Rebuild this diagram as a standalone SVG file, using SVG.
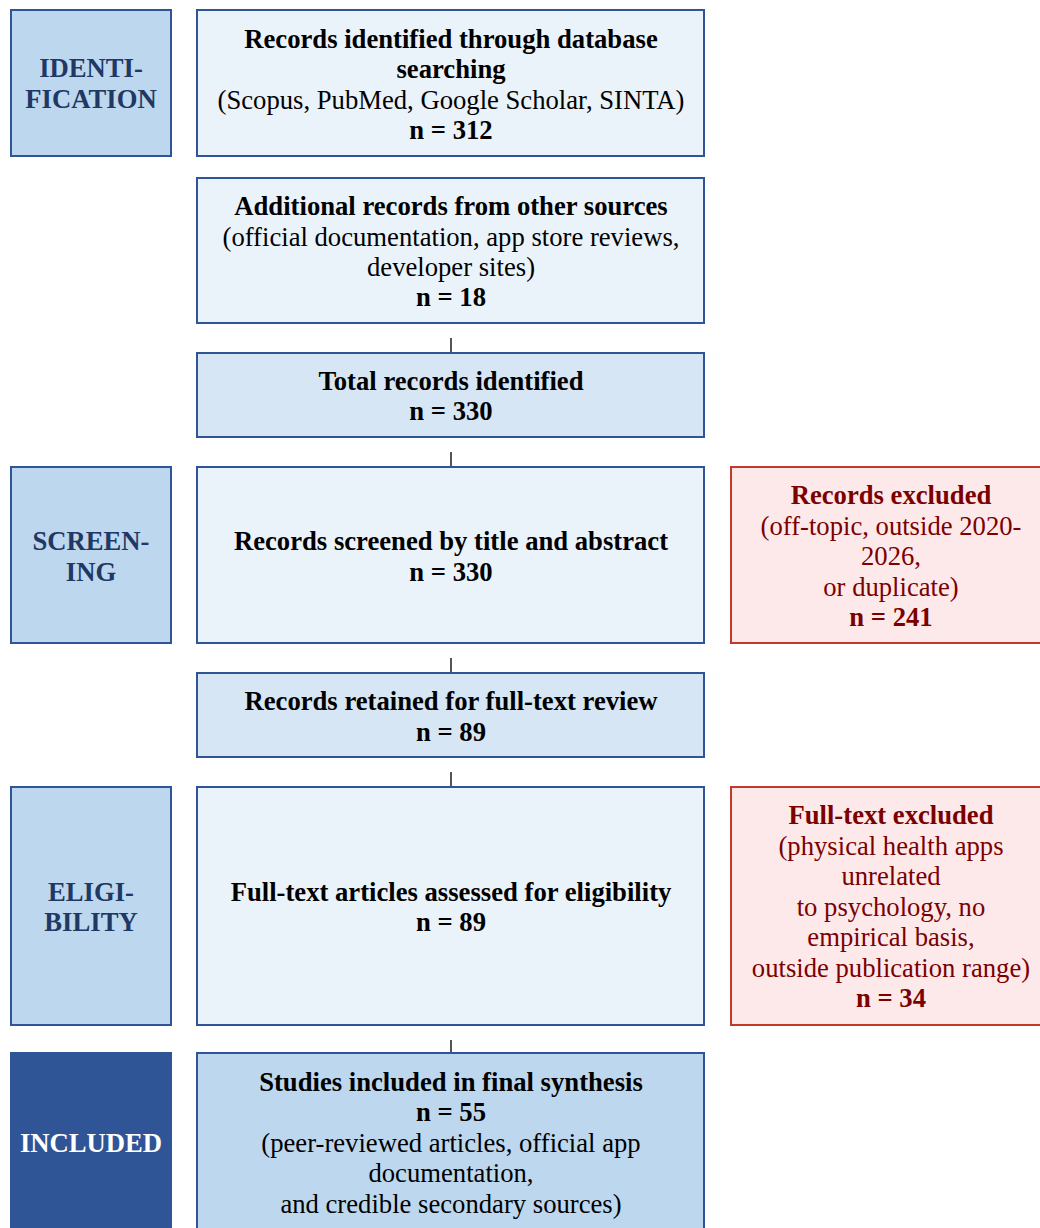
<svg xmlns="http://www.w3.org/2000/svg" width="1040" height="1228" viewBox="0 0 1040 1228">
<style>
text{font-family:"Liberation Serif","Times New Roman",serif;font-size:26.67px;text-anchor:middle}
.b{font-weight:bold}
.stage rect{fill:#BDD7EE;stroke:#2F5597;stroke-width:2}
.stage text{fill:#1F3864;font-weight:bold}
.mid rect{stroke:#2F5597;stroke-width:2}
.mid text{fill:#000}
.l1{fill:#EAF2FA}
.l2{fill:#D6E6F5}
.l3{fill:#BDD7EE}
.exc rect{fill:#FDE9E9;stroke:#C0392B;stroke-width:2}
.exc text{fill:#7B0000}
.conn line{stroke:#555;stroke-width:2}
</style>
<g id="stage-identification" class="stage"><rect x="11" y="10" width="160" height="146"/><text x="91" y="77">IDENTI-</text><text x="91" y="108">FICATION</text></g>
<g id="stage-screening" class="stage"><rect x="11" y="467" width="160" height="176"/><text x="91" y="550">SCREEN-</text><text x="91" y="581">ING</text></g>
<g id="stage-eligibility" class="stage"><rect x="11" y="787" width="160" height="238"/><text x="91" y="901">ELIGI-</text><text x="91" y="931">BILITY</text></g>
<g id="stage-included" class="stage"><rect x="11" y="1053" width="160" height="190" style="fill:#2F5597"/><text x="91" y="1152" style="fill:#fff">INCLUDED</text></g>

<g id="n-database" class="mid"><rect class="l1" x="197" y="10" width="507" height="146"/><text x="451" y="48" class="b">Records identified through database</text><text x="451" y="78" class="b">searching</text><text x="451" y="109">(Scopus, PubMed, Google Scholar, SINTA)</text><text x="451" y="139" class="b">n = 312</text></g>
<g id="n-other" class="mid"><rect class="l1" x="197" y="178" width="507" height="145"/><text x="451" y="215" class="b">Additional records from other sources</text><text x="451" y="246">(official documentation, app store reviews,</text><text x="451" y="276">developer sites)</text><text x="451" y="306" class="b">n = 18</text></g>
<g id="n-total" class="mid"><rect class="l2" x="197" y="353" width="507" height="84"/><text x="451" y="390" class="b">Total records identified</text><text x="451" y="420" class="b">n = 330</text></g>
<g id="n-screened" class="mid"><rect class="l1" x="197" y="467" width="507" height="176"/><text x="451" y="550" class="b">Records screened by title and abstract</text><text x="451" y="581" class="b">n = 330</text></g>
<g id="n-retained" class="mid"><rect class="l2" x="197" y="673" width="507" height="84"/><text x="451" y="710" class="b">Records retained for full-text review</text><text x="451" y="741" class="b">n = 89</text></g>
<g id="n-fulltext" class="mid"><rect class="l1" x="197" y="787" width="507" height="238"/><text x="451" y="901" class="b">Full-text articles assessed for eligibility</text><text x="451" y="931" class="b">n = 89</text></g>
<g id="n-included" class="mid"><rect class="l3" x="197" y="1053" width="507" height="190"/><text x="451" y="1091" class="b">Studies included in final synthesis</text><text x="451" y="1121" class="b">n = 55</text><text x="451" y="1152">(peer-reviewed articles, official app</text><text x="451" y="1182">documentation,</text><text x="451" y="1213">and credible secondary sources)</text></g>

<g id="x-records" class="exc"><rect x="731" y="467" width="320" height="176"/><text x="891" y="504" class="b">Records excluded</text><text x="891" y="535">(off-topic, outside 2020-</text><text x="891" y="565">2026,</text><text x="891" y="596">or duplicate)</text><text x="891" y="626" class="b">n = 241</text></g>
<g id="x-fulltext" class="exc"><rect x="731" y="787" width="320" height="238"/><text x="891" y="824" class="b">Full-text excluded</text><text x="891" y="855">(physical health apps</text><text x="891" y="885">unrelated</text><text x="891" y="916">to psychology, no</text><text x="891" y="946">empirical basis,</text><text x="891" y="977">outside publication range)</text><text x="891" y="1007" class="b">n = 34</text></g>

<g id="connectors" class="conn">
<line x1="451" y1="338" x2="451" y2="352"/>
<line x1="451" y1="452" x2="451" y2="466"/>
<line x1="451" y1="658" x2="451" y2="672"/>
<line x1="451" y1="772" x2="451" y2="786"/>
<line x1="451" y1="1040" x2="451" y2="1052"/>
</g>
</svg>
